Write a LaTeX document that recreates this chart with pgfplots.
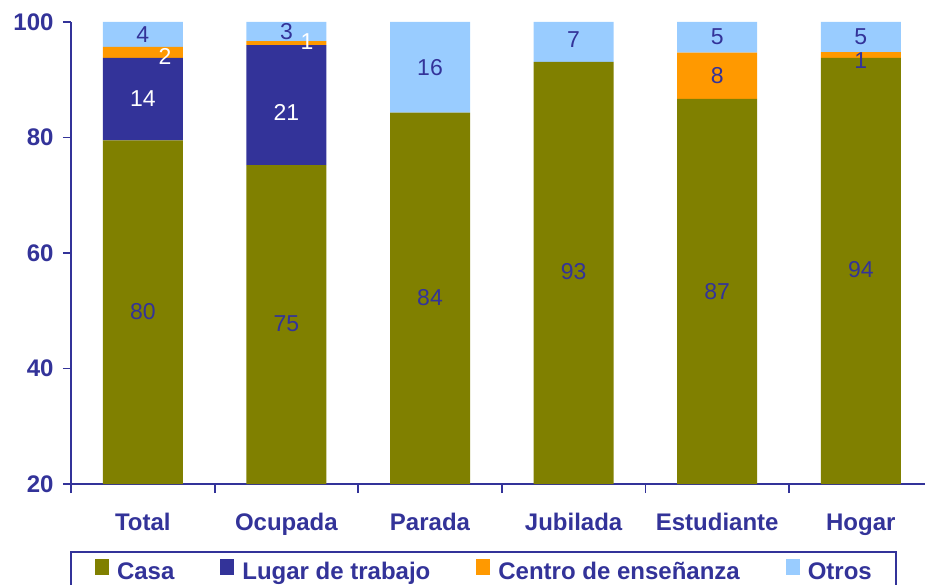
\documentclass[border=0pt]{standalone}
\usepackage{fontspec}
\setmainfont{Liberation Sans}
\usepackage{pgfplots}
\usepackage{pgfplotstable}
\pgfplotsset{compat=1.18}
\definecolor{casa}{HTML}{808000}
\definecolor{lugar}{HTML}{333399}
\definecolor{centro}{HTML}{FF9900}
\definecolor{otros}{HTML}{99CCFF}
\definecolor{navy}{HTML}{333399}

\pgfplotstableread{
x casa lugar centro otros
0 79.5 14.3 1.9 4.3
1 75.2 20.8 0.7 3.3
2 84.3 0 0 15.7
3 93.1 0 0 6.9
4 86.7 0 8.0 5.3
5 93.8 0 1.0 5.2
}\bars

\pgfplotstableread{
x y lab
0 97.9 4
0 49.8 80
1 98.3 3
1 47.8 75
2 92.1 16
2 52.2 84
3 96.9 7
3 56.7 93
4 97.4 5
4 90.7 8
4 53.3 87
5 97.4 5
5 93.4 1
5 57.1 94
}\bluelabels

\pgfplotstableread{
x y lab
0.155 94.1 2
0 86.7 14
1.144 96.6 1
1 84.3 21
}\whitelabels

\begin{document}
\begin{tikzpicture}[font=\fontsize{24}{28}\selectfont]
\begin{axis}[
  at={(71pt,100pt)}, anchor=south west,
  scale only axis, width=854pt, height=462pt,
  xmin=-0.5, xmax=5.447, ymin=20, ymax=100,
  ybar stacked, bar width=80pt,
  axis x line=bottom, axis y line=left,
  axis line style={navy, line width=2pt, -},
  ytick={20,40,60,80,100},
  xtick={0,...,5},
  xticklabels={Total,Ocupada,Parada,Jubilada,Estudiante,Hogar},
  minor xtick={-0.5,0.5,1.5,2.5,3.5,4.5},
  tick align=outside,
  major tick length=8pt, minor tick length=9pt,
  tick style={navy, line width=1.5pt},
  minor x tick style={navy, line width=1.8pt},
  major x tick style={draw=none},
  ticklabel style={font=\bfseries\fontsize{24}{28}\selectfont, text=navy},
  xticklabel style={yshift=-18pt},
  yticklabel style={xshift=-6pt},
  /pgf/number format/assume math mode=true,
  legend columns=4,
  legend style={at={(axis description cs:0,0)}, anchor=north west,
    xshift=-1pt, yshift=-67pt, draw=navy, line width=2pt,
    font=\bfseries\fontsize{24}{28}\selectfont, text=navy,
    inner xsep=24pt, inner ysep=7pt,
    nodes={inner sep=0pt, text height=17pt, text depth=5pt},
    /tikz/every odd column/.append style={column sep=8pt},
    /tikz/every even column/.append style={column sep=46pt}},
  legend image code/.code={\fill[#1] (0pt,-2pt) rectangle (14pt,14pt);},
]
\addplot[fill=casa, draw=none] table[x=x, y=casa] {\bars};
\addlegendentry{Casa}
\addplot[fill=lugar, draw=none] table[x=x, y=lugar] {\bars};
\addlegendentry{Lugar de trabajo}
\addplot[fill=centro, draw=none] table[x=x, y=centro] {\bars};
\addlegendentry{Centro de enseñanza}
\addplot[fill=otros, draw=none] table[x=x, y=otros] {\bars};
\addlegendentry{Otros}
\end{axis}
\begin{axis}[
  at={(71pt,100pt)}, anchor=south west,
  scale only axis, width=854pt, height=462pt,
  xmin=-0.5, xmax=5.447, ymin=20, ymax=100,
  hide axis, clip=false,
]
\addplot[draw=none, mark=none, nodes near coords, point meta=explicit symbolic,
  nodes near coords style={anchor=center, inner sep=0pt, text=navy, font=\fontsize{23}{23}\selectfont}]
  table[x=x, y=y, meta=lab] {\bluelabels};
\addplot[draw=none, mark=none, nodes near coords, point meta=explicit symbolic,
  nodes near coords style={anchor=center, inner sep=0pt, text=white, font=\fontsize{23}{23}\selectfont}]
  table[x=x, y=y, meta=lab] {\whitelabels};
\end{axis}
\pgfresetboundingbox
\useasboundingbox (0,0) rectangle (925pt,584pt);
\end{tikzpicture}
\end{document}
